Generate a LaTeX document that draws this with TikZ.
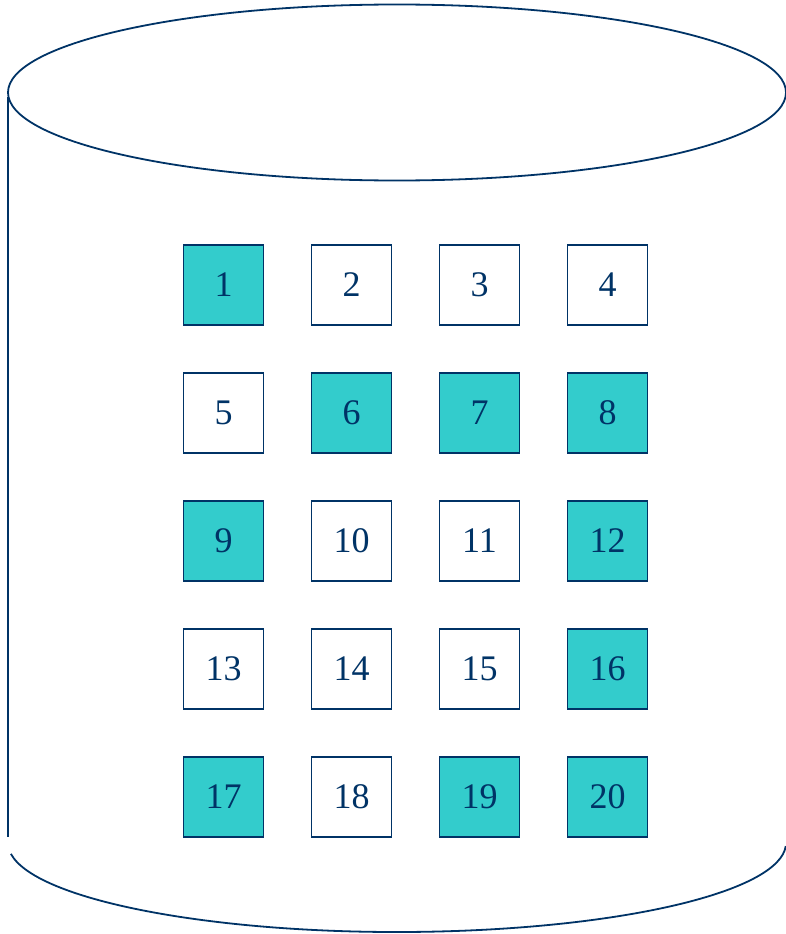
\documentclass[tikz,border=0pt]{standalone}
\usepackage{fontspec}
\setmainfont{Liberation Serif}
\definecolor{navy}{HTML}{003366}
\definecolor{teal}{HTML}{33CCCC}
\begin{document}
\begin{tikzpicture}[x=1pt,y=-1pt,
  cell/.style={draw=navy,line width=1.8pt,minimum size=80pt,inner sep=0pt,
    text=navy,font=\fontsize{36}{40}\selectfont,anchor=center},
  hot/.style={cell,fill=teal},
  cold/.style={cell,fill=white},
  cyl/.style={draw=navy,line width=1.8pt}]
\useasboundingbox (0,0) rectangle (786,934);
% cylinder
\draw[cyl] (397,92.5) ellipse [x radius=389, y radius=88];
\draw[cyl] (8,97) -- (8,837);
\draw[cyl] ([shift={(187:389 and -89)}]397,843) arc [start angle=187, end angle=358, x radius=389, y radius=-89];
% grid
\foreach \n/\c/\r/\s in {1/0/0/hot,2/1/0/cold,3/2/0/cold,4/3/0/cold,
  5/0/1/cold,6/1/1/hot,7/2/1/hot,8/3/1/hot,
  9/0/2/hot,10/1/2/cold,11/2/2/cold,12/3/2/hot,
  13/0/3/cold,14/1/3/cold,15/2/3/cold,16/3/3/hot,
  17/0/4/hot,18/1/4/cold,19/2/4/hot,20/3/4/hot}
  \node[\s] (b\n) at ({223.5+128*\c},{285+128*\r}) {\n};
\end{tikzpicture}
\end{document}
